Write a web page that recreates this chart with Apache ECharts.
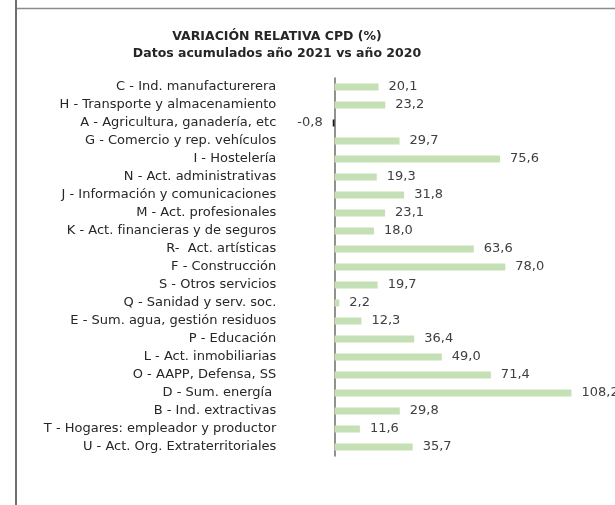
<!DOCTYPE html>
<html lang="es">
<head>
    <meta charset="utf-8">
    <title>Variación relativa CPD</title>
    <script src="https://cdn.jsdelivr.net/npm/echarts@6/dist/echarts.min.js"></script>
    <style>
        html, body { margin: 0; padding: 0; background: #fff; }
        #chart { width: 615px; height: 505px; }
    </style>
</head>
<body>
<div id="chart"></div>
<script type="text/javascript">
    // sectores (de arriba a abajo)
    var sectores = [
        'C - Ind. manufacturerera',
        'H - Transporte y almacenamiento',
        'A - Agricultura, ganadería, etc',
        'G - Comercio y rep. vehículos',
        'I - Hostelería',
        'N - Act. administrativas',
        'J - Información y comunicaciones',
        'M - Act. profesionales',
        'K - Act. financieras y de seguros',
        'R-  Act. artísticas',
        'F - Construcción',
        'S - Otros servicios',
        'Q - Sanidad y serv. soc.',
        'E - Sum. agua, gestión residuos',
        'P - Educación',
        'L - Act. inmobiliarias',
        'O - AAPP, Defensa, SS',
        'D - Sum. energía ',
        'B - Ind. extractivas',
        'T - Hogares: empleador y productor',
        'U - Act. Org. Extraterritoriales'
    ];
    // variación relativa 2021 vs 2020 (%)
    var variacion = [20.1, 23.2, -0.8, 29.7, 75.6, 19.3, 31.8, 23.1, 18.0, 63.6, 78.0,
                     19.7, 2.2, 12.3, 36.4, 49.0, 71.4, 108.2, 29.8, 11.6, 35.7];

    var fuente = "'DejaVu Sans', 'Open Sans', sans-serif";

    // el valor negativo va en negro con la etiqueta a la izquierda
    var datos = variacion.map(function (v) {
        if (v < 0) {
            return { value: v, itemStyle: { color: '#1a1a1a' }, label: { position: 'left' } };
        }
        return v;
    });

    var chart = echarts.init(document.getElementById('chart'));
    chart.setOption({
        animation: false,
        backgroundColor: '#ffffff',
        textStyle: { fontFamily: fuente },
        title: {
            text: 'VARIACIÓN RELATIVA CPD (%)\nDatos acumulados año 2021 vs año 2020',
            left: 272,
            top: 23,
            textAlign: 'center',
            textStyle: {
                fontFamily: fuente,
                fontSize: 12.5,
                fontWeight: 'bold',
                color: '#262626',
                lineHeight: 17
            }
        },
        graphic: [
            { type: 'line', shape: { x1: 16, y1: 0, x2: 16, y2: 505 }, style: { stroke: '#6e6e6e', lineWidth: 2 } },
            { type: 'line', shape: { x1: 17, y1: 8.5, x2: 615, y2: 8.5 }, style: { stroke: '#8c8c8c', lineWidth: 1.5 } }
        ],
        grid: { left: 332.3, right: 37.4, top: 78, bottom: 49, containLabel: false },
        xAxis: {
            type: 'value',
            min: -1,
            max: 111,
            show: false
        },
        yAxis: {
            type: 'category',
            data: sectores,
            inverse: true,
            axisLine: { onZero: true, lineStyle: { color: '#6d6d6d', width: 1.5 } },
            axisTick: { show: false },
            axisLabel: { interval: 0, margin: 56, fontSize: 13, color: '#262626', fontFamily: fuente }
        },
        series: [{
            type: 'bar',
            data: datos,
            barWidth: 7,
            itemStyle: { color: '#c5e0b4' },
            label: {
                show: true,
                position: 'right',
                distance: 10,
                fontSize: 13,
                color: '#404040',
                fontFamily: fuente,
                formatter: function (p) {
                    return Number(p.value).toFixed(1).replace('.', ',');
                }
            }
        }]
    });
</script>
</body>
</html>
